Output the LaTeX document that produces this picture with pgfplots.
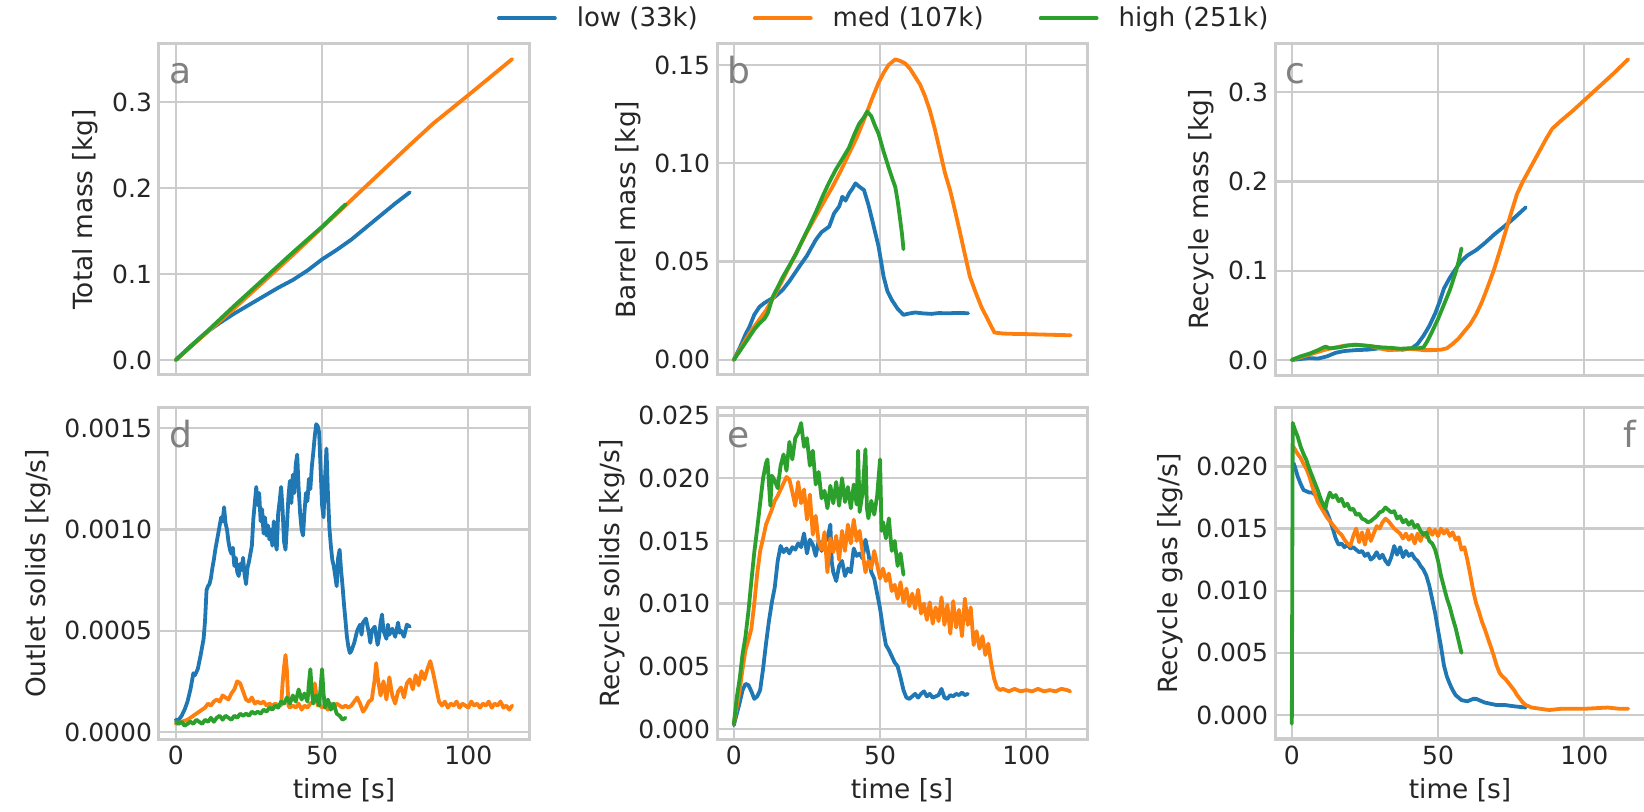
\documentclass[border=0pt]{standalone}
\usepackage{fontspec}
\setmainfont{DejaVu Sans}
\usepackage{pgfplots}
\pgfplotsset{compat=1.18}
\definecolor{cblue}{HTML}{1F77B4}
\definecolor{corange}{HTML}{FF7F0E}
\definecolor{cgreen}{HTML}{2CA02C}
\definecolor{gridc}{HTML}{CCCCCC}
\definecolor{txt}{HTML}{262626}
\definecolor{lettc}{HTML}{808080}
\pgfplotsset{
  myax/.style={
    scale only axis, width=185pt, height=165.5pt,
    anchor=north west,
    xmin=-5.75, xmax=120.75,
    xtick={0,50,100},
    grid=major,
    major grid style={line width=1.1pt, color=gridc},
    axis line style={line width=1.5pt, color=gridc},
    major tick length=0pt,
    tick style={draw=none},
    tick label style={font=\fontsize{12.5}{14}\selectfont, text=txt},
    label style={font=\fontsize{13.2}{15}\selectfont, text=txt},
    /pgf/number format/assume math mode=true,
    scaled y ticks=false,
    scaled x ticks=false,
    axis on top=false,
    every axis plot/.append style={line width=1.9pt, line join=round, line cap=round},
  },
  ylab/.style={yticklabel style={/pgf/number format/fixed, /pgf/number format/fixed zerofill, /pgf/number format/precision=#1}},
}
\newcommand{\panel}[1]{\node[anchor=base west, inner sep=0pt, text=lettc, font=\fontsize{18}{20}\selectfont] at (axis description cs:0.027,0.882) {#1};}
\begin{document}
\begin{tikzpicture}
\useasboundingbox (0,0) rectangle (822pt,-406pt);
% ---------------- a
\begin{axis}[myax, at={(79.5pt,-22pt)}, ymin=-0.0175, ymax=0.3675, ytick={0,0.1,0.2,0.3}, ylab=1, xticklabels={}, ylabel={Total mass [kg]}]
\addplot[cblue] coordinates {(0,0) (5,0.016) (10,0.031) (15,0.043) (20,0.054) (25,0.064) (30,0.074) (35,0.084) (40,0.093) (45,0.104) (50,0.117) (55,0.128) (60,0.140) (65,0.154) (70,0.168) (75,0.182) (80,0.195)};
\addplot[corange] coordinates {(0,0) (10,0.030) (20,0.060) (30,0.091) (40,0.122) (50,0.154) (60,0.186) (70,0.218) (80,0.250) (88,0.275) (100,0.308) (115,0.350)};
\addplot[cgreen] coordinates {(0,0) (10,0.031) (20,0.063) (30,0.094) (40,0.125) (50,0.155) (58,0.181)};
\panel{a}
\end{axis}
% ---------------- b
\begin{axis}[myax, at={(358.5pt,-22pt)}, ymin=-0.0077, ymax=0.1607, ytick={0,0.05,0.10,0.15}, ylab=2, xticklabels={}, ylabel={Barrel mass [kg]},
  legend style={at={(axis description cs:-0.5946,1.0776)}, anchor=west, draw=none, fill=none, inner sep=0pt, outer sep=0pt, font=\fontsize{13}{15}\selectfont, text=txt, legend columns=3, nodes={inner xsep=0pt}, /tikz/every odd column/.append style={column sep=10pt}, /tikz/every even column/.append style={column sep=27.5pt}},
  legend image code/.code={\draw[#1] (0pt,0pt) -- (28pt,0pt);}]
\addplot[cblue] coordinates {(0,0) (2,0.006) (4,0.013) (5.4,0.017) (7,0.023) (8.8,0.027) (10.5,0.029) (12.2,0.0305) (14,0.032) (16.7,0.0356) (19,0.040) (22.4,0.0475) (25,0.053) (28,0.061) (30,0.065) (32.6,0.0678) (34.3,0.0746) (36,0.078) (37.1,0.083) (38.2,0.081) (39.4,0.0847) (40.5,0.087) (41.6,0.0898) (43,0.088) (44.5,0.0864) (46,0.079) (47.3,0.0712) (49.5,0.0576) (51.2,0.0424) (52.5,0.035) (54,0.0305) (56,0.026) (58,0.0229) (60,0.0236) (62,0.0241) (65,0.0236) (67.6,0.0234) (70,0.0238) (73.3,0.0237) (77,0.0239) (80.1,0.0237)};
\addlegendentry{low (33k)}
\addplot[corange] coordinates {(0,0) (5.4,0.0136) (8,0.019) (11.1,0.0254) (14,0.033) (16.7,0.0407) (19.5,0.049) (22.4,0.0576) (25,0.065) (28,0.073) (31,0.081) (33.7,0.088) (36.5,0.096) (39.4,0.105) (42,0.113) (45,0.124) (47.3,0.133) (49.5,0.141) (51.2,0.146) (52.9,0.150) (55.2,0.1529) (57,0.152) (58.6,0.1508) (60.3,0.148) (62,0.144) (63.7,0.140) (65.4,0.134) (67,0.127) (68.8,0.117) (70.5,0.106) (72.2,0.095) (74,0.086) (75.6,0.076) (77,0.067) (78.4,0.0576) (80.7,0.0424) (82.5,0.035) (84.6,0.0271) (87,0.020) (89.1,0.0139) (92,0.0134) (95.9,0.0132) (100,0.0131) (105,0.0129) (110,0.0127) (115.2,0.0125)};
\addlegendentry{med (107k)}
\addplot[cgreen] coordinates {(0,0) (2.5,0.0055) (5.4,0.0119) (7,0.0155) (8.8,0.0186) (10.5,0.021) (11.6,0.0237) (13.3,0.032) (15,0.037) (16.7,0.042) (19,0.048) (21.3,0.054) (23.5,0.061) (25.8,0.068) (28,0.075) (30.3,0.083) (32.5,0.090) (34.8,0.0966) (37,0.102) (39.4,0.108) (41,0.114) (42.8,0.120) (44.3,0.123) (45.6,0.1263) (47,0.124) (48.3,0.119) (49.5,0.115) (51.2,0.106) (52.9,0.098) (54,0.093) (55.2,0.088) (56.1,0.080) (56.9,0.071) (57.5,0.064) (58,0.0563)};
\addlegendentry{high (251k)}
\panel{b}
\end{axis}
% ---------------- c
\begin{axis}[myax, at={(637.5pt,-22pt)}, ymin=-0.0169, ymax=0.354, ytick={0,0.1,0.2,0.3}, ylab=1, xticklabels={}, ylabel={Recycle mass [kg]}]
\addplot[cblue] coordinates {(0,0) (3,0.001) (6,0.002) (9,0.0015) (12,0.004) (15,0.008) (18,0.010) (22,0.011) (26,0.0115) (30,0.013) (34,0.012) (38,0.0115) (41,0.013) (43,0.018) (45,0.027) (47,0.038) (49,0.052) (50.5,0.065) (52,0.080) (54,0.092) (56,0.102) (58,0.111) (60,0.117) (63,0.123) (66,0.131) (69,0.140) (72,0.148) (75,0.156) (78,0.165) (80,0.171)};
\addplot[corange] coordinates {(0,0) (3,0.003) (6,0.006) (9,0.009) (12,0.012) (15,0.014) (18,0.016) (21,0.017) (24,0.0165) (27,0.0155) (30,0.013) (33,0.011) (36,0.0115) (39,0.0125) (42,0.012) (45,0.011) (48,0.011) (51,0.0115) (53,0.013) (55,0.018) (57,0.024) (59,0.032) (61,0.040) (63,0.051) (65,0.065) (67,0.082) (69,0.100) (71,0.121) (73,0.143) (75,0.165) (77,0.186) (79,0.200) (81,0.212) (83,0.224) (85,0.236) (87,0.248) (89,0.259) (92,0.268) (96,0.279) (100,0.291) (105,0.306) (110,0.321) (115,0.337)};
\addplot[cgreen] coordinates {(0,0) (3,0.004) (6,0.007) (9,0.011) (11.5,0.015) (13,0.013) (16,0.014) (19,0.016) (22,0.017) (25,0.016) (28,0.015) (31,0.014) (34,0.0135) (37,0.0125) (40,0.013) (43,0.013) (45,0.014) (46.5,0.022) (48,0.032) (50,0.046) (52,0.062) (54,0.078) (56,0.098) (57,0.110) (58,0.125)};
\panel{c}
\end{axis}
% ---------------- d
\begin{axis}[myax, at={(79.5pt,-204pt)}, ymin=-0.000035, ymax=0.0016, ytick={0,0.0005,0.001,0.0015}, ylab=4, xlabel={time [s]}, ylabel={Outlet solids [kg/s]}]
\addplot[cblue] coordinates {(0,0.00006) (1,0.00006) (2,0.00008) (3,0.00011) (4,0.00015) (5,0.00021) (6,0.00029) (6.5,0.00028) (7.5,0.00031) (8.5,0.00038) (9.5,0.00046) (10,0.00055) (10.5,0.00070) (11,0.00072) (11.5,0.00073) (12,0.00076) (12.5,0.00081) (13,0.00085) (13.5,0.00090) (14,0.00094) (14.5,0.00098) (15,0.00102) (15.5,0.00106) (16,0.00104) (16.5,0.00111) (17,0.00103) (17.5,0.00100) (18,0.00094) (18.5,0.00090) (19,0.00088) (19.5,0.00091) (20,0.00082) (20.5,0.00086) (21,0.00079) (21.5,0.00077) (22,0.00083) (22.5,0.00080) (23,0.00086) (23.5,0.00078) (24,0.00073) (24.5,0.00081) (25,0.00084) (25.5,0.00088) (26,0.00092) (26.5,0.00105) (27,0.00113) (27.5,0.00121) (28,0.00112) (28.5,0.00118) (29,0.00104) (29.5,0.00110) (30,0.00098) (30.5,0.00106) (31,0.00097) (31.5,0.00102) (32,0.00095) (32.5,0.00100) (33,0.00092) (33.5,0.00104) (34,0.00094) (34.5,0.00090) (35,0.00108) (35.5,0.00114) (36,0.00121) (36.5,0.00110) (37,0.00094) (37.5,0.00090) (38,0.00102) (38.5,0.00116) (39,0.00124) (39.5,0.00113) (40,0.00127) (40.5,0.00118) (41,0.00132) (41.5,0.00137) (42,0.00120) (42.5,0.00108) (43,0.00100) (43.5,0.00097) (44,0.00109) (44.5,0.00118) (45,0.00114) (45.5,0.00125) (46,0.00120) (46.5,0.00131) (47,0.00138) (47.5,0.00146) (48,0.00152) (48.5,0.00151) (49,0.00148) (49.5,0.00130) (50,0.00112) (50.5,0.00106) (51,0.00125) (51.5,0.00140) (52,0.00118) (52.5,0.00101) (53,0.00092) (53.5,0.00085) (54,0.00082) (54.5,0.00077) (55,0.00072) (55.5,0.00086) (56,0.00090) (56.5,0.00080) (57,0.00072) (57.5,0.00063) (58,0.00055) (58.5,0.00047) (59,0.00042) (59.5,0.00039) (60,0.00040) (61,0.00044) (62,0.00050) (63,0.00053) (63.5,0.00048) (64,0.00054) (65,0.00056) (66,0.00049) (66.5,0.00044) (67,0.00050) (68,0.00052) (69,0.00043) (69.5,0.00047) (70,0.00054) (70.5,0.00058) (71,0.00050) (72,0.00046) (72.5,0.00053) (73,0.00048) (74,0.00051) (75,0.00047) (76,0.00054) (76.5,0.00049) (77,0.00050) (78,0.00047) (79,0.00053) (80,0.00052)};
\addplot[corange] coordinates {(0,0.00004) (2,0.00005) (4,0.00006) (6,0.00008) (8,0.00010) (10,0.00012) (11,0.00014) (12,0.00013) (13,0.00015) (14,0.00016) (15,0.00015) (16,0.00018) (17,0.00017) (18,0.00016) (19,0.00019) (20,0.00021) (21,0.00025) (22,0.00024) (23,0.00020) (24,0.00016) (25,0.00015) (26,0.00017) (27,0.00014) (28,0.00015) (29,0.00014) (30,0.00015) (31,0.00013) (32,0.00014) (33,0.00013) (34,0.00014) (35,0.00013) (36,0.00013) (36.5,0.00024) (37,0.00032) (37.5,0.00038) (38,0.00030) (38.5,0.00013) (39,0.00012) (40,0.00013) (41,0.00012) (42,0.00014) (43,0.00011) (44,0.00013) (45,0.00012) (46,0.00014) (47,0.00015) (47.5,0.00024) (48,0.00019) (48.5,0.00013) (49,0.00014) (50,0.00012) (51,0.00013) (52,0.00011) (53,0.00014) (54,0.00012) (55,0.00014) (56,0.00013) (57,0.00012) (58,0.00013) (59,0.00012) (60,0.00013) (61,0.00015) (62,0.00017) (63,0.00014) (64,0.00010) (65,0.00012) (66,0.00015) (67,0.00016) (68,0.00026) (68.5,0.00034) (69,0.00027) (70,0.00018) (71,0.00025) (72,0.00016) (73,0.00027) (74,0.00018) (75,0.00014) (76,0.00020) (77,0.00022) (78,0.00017) (79,0.00024) (80,0.00026) (81,0.00021) (82,0.00028) (83,0.00023) (84,0.00030) (85,0.00026) (86,0.00031) (87,0.00035) (88,0.00029) (89,0.00022) (90,0.00015) (91,0.00013) (92,0.00015) (93,0.00012) (94,0.00014) (95,0.00013) (96,0.00015) (97,0.00012) (98,0.00014) (99,0.00013) (100,0.00012) (101,0.00015) (102,0.00013) (103,0.00014) (104,0.00012) (105,0.00014) (106,0.00013) (107,0.00015) (108,0.00012) (109,0.00014) (110,0.00013) (111,0.00015) (112,0.00012) (113,0.00013) (114,0.00011) (115,0.00013)};
\addplot[cgreen] coordinates {(0,0.00005) (1,0.00004) (2,0.00005) (3,0.00003) (4,0.00004) (5,0.00005) (6,0.00004) (7,0.00006) (8,0.00005) (9,0.00004) (10,0.00006) (11,0.00005) (12,0.00007) (13,0.00005) (14,0.00007) (15,0.00008) (16,0.00006) (17,0.00008) (18,0.00007) (19,0.00006) (20,0.00008) (21,0.00007) (22,0.00009) (23,0.00008) (24,0.00009) (25,0.00008) (26,0.00010) (27,0.00009) (28,0.00010) (29,0.00009) (30,0.00011) (31,0.00010) (32,0.00012) (33,0.00011) (34,0.00013) (35,0.00012) (36,0.00015) (37,0.00014) (38,0.00017) (39,0.00014) (40,0.00018) (41,0.00015) (42,0.00021) (43,0.00016) (44,0.00019) (45,0.00015) (45.5,0.00024) (46,0.00031) (46.5,0.00020) (47,0.00014) (48,0.00018) (49,0.00013) (49.5,0.00022) (50,0.00031) (50.5,0.00019) (51,0.00012) (52,0.00016) (53,0.00011) (54,0.00014) (55,0.00009) (56,0.00008) (57,0.00006) (58,0.00007)};
\panel{d}
\end{axis}
% ---------------- e
\begin{axis}[myax, at={(358.5pt,-204pt)}, ymin=-0.0008, ymax=0.0256, ytick={0,0.005,0.010,0.015,0.020,0.025}, ylab=3, xlabel={time [s]}, ylabel={Recycle solids [kg/s]}]
\addplot[cblue] coordinates {(0,0.0003) (1,0.0012) (2,0.0021) (3,0.0031) (4,0.0036) (5,0.0035) (6,0.0030) (7,0.0024) (8,0.0026) (9,0.0031) (10,0.0048) (11,0.0068) (12,0.0086) (13,0.0101) (14,0.0113) (15,0.0134) (16,0.0146) (17,0.0141) (18,0.0144) (19,0.0140) (20,0.0145) (21,0.0143) (22,0.0148) (23,0.0145) (24,0.0156) (25,0.0140) (26,0.0151) (27,0.0147) (28,0.0138) (29,0.0150) (30,0.0142) (31,0.0149) (32,0.0152) (33,0.0163) (33.5,0.0133) (34,0.0125) (35,0.0118) (36,0.0130) (37,0.0134) (38,0.0122) (39,0.0128) (40,0.0125) (41,0.0144) (42,0.0138) (43,0.0140) (44,0.0136) (45,0.0151) (46,0.0140) (47,0.0125) (48,0.0120) (49,0.0108) (50,0.0096) (51,0.0080) (52,0.0067) (53,0.0063) (54,0.0058) (55,0.0053) (56,0.0050) (57,0.0041) (58,0.0031) (59,0.0025) (60,0.0024) (61,0.0026) (62,0.0028) (63,0.0025) (64,0.0028) (65,0.0030) (66,0.0026) (67,0.0028) (68,0.0025) (69,0.0026) (70,0.0027) (71,0.0032) (72,0.0025) (73,0.0024) (74,0.0027) (75,0.0026) (76,0.0028) (77,0.0027) (78,0.0029) (79,0.0027) (80,0.0028)};
\addplot[corange] coordinates {(0,0.0004) (1,0.0018) (2,0.0031) (3,0.0048) (4,0.0063) (5,0.0071) (6,0.0080) (7,0.0100) (8,0.0124) (9,0.0142) (10,0.0152) (11,0.0163) (12,0.0169) (13,0.0175) (14,0.0182) (15,0.0186) (16,0.0191) (17,0.0196) (18,0.0201) (19,0.0199) (20,0.0189) (21,0.0178) (22,0.0197) (23,0.0180) (24,0.0191) (25,0.0167) (26,0.0187) (27,0.0155) (28,0.0170) (29,0.0149) (30,0.0143) (31,0.0157) (32,0.0125) (33,0.0152) (34,0.0141) (35,0.0154) (36,0.0135) (37,0.0158) (38,0.0142) (39,0.0163) (40,0.0148) (41,0.0167) (42,0.0150) (43,0.0158) (44,0.0141) (45,0.0125) (46,0.0134) (47,0.0128) (48,0.0142) (49,0.0131) (50,0.0120) (51,0.0128) (52,0.0118) (53,0.0124) (54,0.0110) (55,0.0115) (56,0.0104) (57,0.0117) (58,0.0101) (59,0.0112) (60,0.0098) (61,0.0108) (62,0.0096) (63,0.0111) (64,0.0092) (65,0.0100) (66,0.0087) (67,0.0101) (68,0.0084) (69,0.0097) (70,0.0086) (71,0.0105) (72,0.0083) (73,0.0099) (74,0.0076) (75,0.0102) (76,0.0081) (77,0.0095) (78,0.0074) (79,0.0104) (80,0.0083) (81,0.0097) (82,0.0067) (83,0.0078) (84,0.0064) (85,0.0074) (86,0.0059) (87,0.0068) (88,0.0052) (89,0.0040) (90,0.0033) (91,0.0031) (92,0.0032) (94,0.0030) (96,0.0032) (98,0.0030) (100,0.0031) (102,0.0030) (104,0.0032) (106,0.0030) (108,0.0031) (110,0.0030) (112,0.0032) (114,0.0031) (115,0.0030)};
\addplot[cgreen] coordinates {(0,0.0004) (1,0.0025) (2,0.0040) (3,0.0060) (4,0.0074) (5,0.0094) (6,0.0118) (7,0.0141) (8,0.0160) (9,0.0180) (10,0.0200) (11,0.0212) (11.5,0.0215) (12,0.0196) (12.5,0.0178) (13,0.0202) (14,0.0198) (15,0.0192) (16,0.0210) (17,0.0219) (18,0.0206) (19,0.0229) (20,0.0215) (21,0.0232) (22,0.0236) (23,0.0244) (24,0.0225) (25,0.0232) (26,0.0210) (27,0.0222) (28,0.0195) (29,0.0205) (30,0.0184) (31,0.0190) (32,0.0176) (33,0.0194) (34,0.0180) (35,0.0197) (36,0.0178) (37,0.0200) (38,0.0181) (39,0.0193) (40,0.0176) (41,0.0195) (42,0.0179) (42.5,0.0222) (43,0.0173) (44,0.0188) (45,0.0223) (45.5,0.0176) (46,0.0168) (47,0.0182) (48,0.0171) (49,0.0186) (50,0.0215) (50.5,0.0158) (51,0.0165) (52,0.0152) (53,0.0168) (54,0.0142) (55,0.0150) (56,0.0130) (57,0.0140) (58,0.0123)};
\panel{e}
\end{axis}
% ---------------- f
\begin{axis}[myax, at={(637.5pt,-204pt)}, ymin=-0.00193, ymax=0.0247, ytick={0,0.005,0.010,0.015,0.020}, ylab=3, xlabel={time [s]}, ylabel={Recycle gas [kg/s]}]
\addplot[cblue] coordinates {(0.5,0.0203) (1,0.0200) (2,0.0192) (3,0.0186) (4,0.0181) (5,0.0180) (6,0.0179) (7,0.0179) (8,0.0177) (9,0.0174) (10,0.0171) (11,0.0167) (12,0.0163) (13,0.0157) (14,0.0150) (15,0.0142) (16,0.0137) (17,0.0138) (18,0.0135) (19,0.0137) (20,0.0134) (21,0.0135) (22,0.0133) (23,0.0131) (24,0.0132) (25,0.0128) (26,0.0130) (27,0.0125) (28,0.0127) (29,0.0131) (30,0.0126) (31,0.0129) (32,0.0124) (33,0.0121) (34,0.0127) (35,0.0136) (36,0.0129) (37,0.0135) (38,0.0127) (39,0.0132) (40,0.0128) (41,0.0130) (42,0.0126) (43,0.0124) (44,0.0120) (45,0.0117) (46,0.0112) (47,0.0104) (48,0.0093) (49,0.0082) (50,0.0068) (51,0.0055) (52,0.0040) (53,0.0031) (54,0.0025) (55,0.0020) (56,0.0016) (57,0.0014) (58,0.0012) (60,0.0011) (62,0.0013) (63,0.0013) (64,0.0012) (66,0.0010) (68,0.0009) (70,0.0008) (73,0.0008) (76,0.0007) (80,0.0006)};
\addplot[corange] coordinates {(0.5,0.0216) (1,0.0214) (2,0.0210) (3,0.0207) (4,0.0202) (5,0.0198) (6,0.0192) (7,0.0184) (8,0.0177) (9,0.0171) (10,0.0167) (11,0.0163) (12,0.0159) (13,0.0156) (14,0.0153) (15,0.0150) (16,0.0147) (17,0.0145) (18,0.0141) (19,0.0138) (20,0.0136) (21,0.0144) (22,0.0150) (23,0.0139) (24,0.0147) (25,0.0137) (26,0.0149) (27,0.0140) (28,0.0146) (29,0.0152) (30,0.0150) (31,0.0155) (32,0.0158) (33,0.0156) (34,0.0153) (35,0.0150) (36,0.0148) (37,0.0146) (38,0.0142) (39,0.0146) (40,0.0141) (41,0.0145) (42,0.0138) (43,0.0146) (44,0.0140) (45,0.0147) (46,0.0143) (47,0.0150) (48,0.0145) (49,0.0149) (50,0.0144) (51,0.0150) (52,0.0146) (53,0.0149) (54,0.0144) (55,0.0147) (56,0.0141) (57,0.0143) (58,0.0133) (59,0.0135) (60,0.0125) (61,0.0113) (62,0.0100) (63,0.0090) (64,0.0083) (65,0.0075) (66,0.0069) (67,0.0062) (68,0.0055) (69,0.0048) (70,0.0040) (71,0.0034) (72,0.0031) (73,0.0029) (74,0.0026) (75,0.0023) (76,0.0020) (77,0.0016) (78,0.0013) (79,0.0010) (80,0.0008) (82,0.0006) (85,0.0005) (88,0.0004) (92,0.0005) (100,0.0005) (108,0.0006) (112,0.0005) (115,0.0005)};
\addplot[cgreen] coordinates {(0,-0.0007) (0.3,0.0235) (1,0.0230) (2,0.0224) (3,0.0216) (4,0.0210) (5,0.0205) (6,0.0198) (7,0.0192) (8,0.0186) (9,0.0180) (10,0.0173) (11,0.0168) (11.5,0.0166) (12,0.0172) (13,0.0179) (14,0.0175) (15,0.0177) (16,0.0172) (17,0.0174) (18,0.0168) (19,0.0170) (20,0.0165) (21,0.0166) (22,0.0161) (23,0.0162) (24,0.0158) (25,0.0157) (26,0.0155) (27,0.0156) (28,0.0158) (29,0.0160) (30,0.0163) (31,0.0164) (32,0.0167) (33,0.0165) (34,0.0163) (35,0.0164) (36,0.0158) (37,0.0160) (38,0.0155) (39,0.0157) (40,0.0153) (41,0.0156) (42,0.0151) (43,0.0153) (44,0.0148) (45,0.0145) (46,0.0147) (47,0.0140) (48,0.0138) (49,0.0133) (50,0.0124) (51,0.0112) (52,0.0103) (53,0.0094) (54,0.0087) (55,0.0078) (56,0.0070) (57,0.0060) (58,0.0050)};
\node[anchor=base east, inner sep=0pt, text=lettc, font=\fontsize{18}{20}\selectfont] at (axis description cs:0.976,0.882) {f};
\end{axis}
\end{tikzpicture}
\end{document}
